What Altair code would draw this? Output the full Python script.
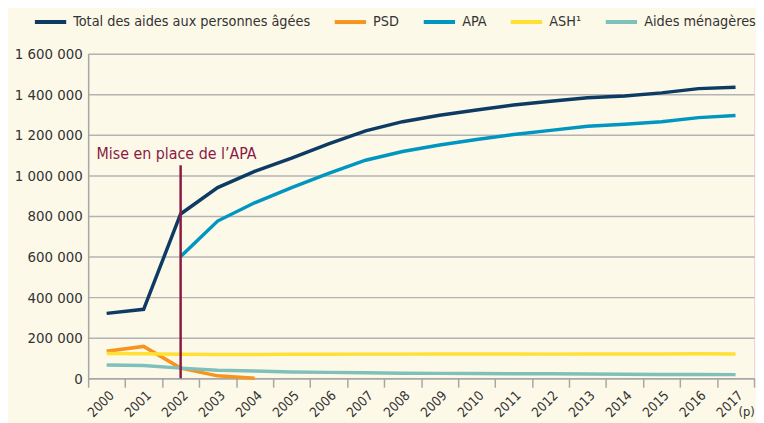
import altair as alt
import pandas as pd

years = [str(y) for y in range(2000, 2018)]
total = [320000, 340000, 810000, 940000, 1020000, 1085000, 1155000, 1220000, 1265000,
         1297000, 1323000, 1347000, 1366000, 1383000, 1392000, 1407000, 1428000, 1435000]
apa = [None, None, 600000, 775000, 865000, 940000, 1010000, 1075000, 1118000,
       1150000, 1177000, 1202000, 1222000, 1242000, 1252000, 1265000, 1285000, 1295000]
psd = [133000, 157000, 50000, 12000, 0] + [None] * 13
ash = [122000, 121000, 118000, 117000, 117000, 118000, 118000, 119000, 119000,
       120000, 120000, 120000, 119000, 120000, 120000, 120000, 121000, 120000]
menag = [65000, 63000, 50000, 40000, 36000, 31000, 29000, 27000, 25000,
         24000, 23000, 22000, 22000, 21000, 20000, 19000, 19000, 18000]

series_names = ["Total des aides aux personnes âgées", "PSD", "APA", "ASH¹", "Aides ménagères"]
series_colors = ["#0d3b63", "#f7941d", "#0096c0", "#ffe033", "#7fc0bb"]
series_values = [total, psd, apa, ash, menag]

rows = []
for name, vals in zip(series_names, series_values):
    for y, v in zip(years, vals):
        if v is not None:
            rows.append({"year": y, "value": v, "series": name})
df = pd.DataFrame(rows)

FONT = "DejaVu Sans Condensed"

x_enc = alt.X("year:O", scale=alt.Scale(type="band", domain=years, paddingInner=0, paddingOuter=0),
              axis=alt.Axis(title=None, labelAngle=-45, labelFontSize=13.5, labelFont=FONT,
                            labelColor="#333333", tickBand="extent", tickSize=9, tickColor="#a6a6a6",
                            tickWidth=1.5, domainColor="#a6a6a6", domainWidth=1.5, grid=False,
                            labelPadding=1))
y_scale = alt.Scale(domain=[0, 1600000], nice=False)

lines = alt.Chart(df).mark_line(strokeWidth=3.5).encode(
    x=x_enc,
    y=alt.Y("value:Q", scale=y_scale,
            axis=alt.Axis(title=None, values=list(range(0, 1600001, 200000)),
                          labelExpr="replace(format(datum.value, ','), /,/g, ' ')",
                          labelFontSize=15, labelFont=FONT, labelColor="#333333",
                          gridColor="#b3b3b3", gridWidth=1.5, domainColor="#a6a6a6", domainWidth=1.5,
                          ticks=False, labelPadding=6)),
    color=alt.Color("series:N", scale=alt.Scale(domain=series_names, range=series_colors),
                    legend=alt.Legend(title=None, orient="none", direction="horizontal",
                                      legendX=-56, legendY=-50, symbolType="stroke",
                                      symbolStrokeWidth=4, symbolSize=1000, labelFont=FONT,
                                      labelFontSize=14.5, labelColor="#333333", columnPadding=16,
                                      labelOffset=5, labelLimit=400)),
    order=alt.Order("year:O"),
)

marker_df = pd.DataFrame({"year": ["2002"], "y0": [0], "y1": [1050000],
                          "label": ["Mise en place de l’APA"], "ly": [1083000]})
rule = alt.Chart(marker_df).mark_rule(color="#8b1a43", strokeWidth=2.5).encode(
    x=alt.X("year:O"), y=alt.Y("y0:Q", scale=y_scale), y2="y1:Q")
label = alt.Chart(marker_df).mark_text(color="#8b1a43", font=FONT, fontSize=16, align="left",
                                        baseline="alphabetic", dx=-85).encode(
    x=alt.X("year:O"), y=alt.Y("ly:Q", scale=y_scale), text="label:N")

p_df = pd.DataFrame({"year": ["2017"], "y": [-185000], "t": ["(p)"]})
p_text = alt.Chart(p_df).mark_text(font=FONT, fontSize=13, color="#333333", align="left",
                                   baseline="alphabetic", dx=3).encode(
    x=alt.X("year:O"), y=alt.Y("y:Q", scale=y_scale), text="t:N")

chart = alt.layer(lines, rule, label, p_text).properties(
    width=673, height=328, background="#fdf9e9",
    padding={"left": 81, "top": 44, "right": 2, "bottom": 43},
    autosize=alt.AutoSizeParams(type="none"),
).configure_view(stroke=None).configure(font=FONT)

chart.save("out.html", embed_options={"renderer": "svg", "actions": False})
